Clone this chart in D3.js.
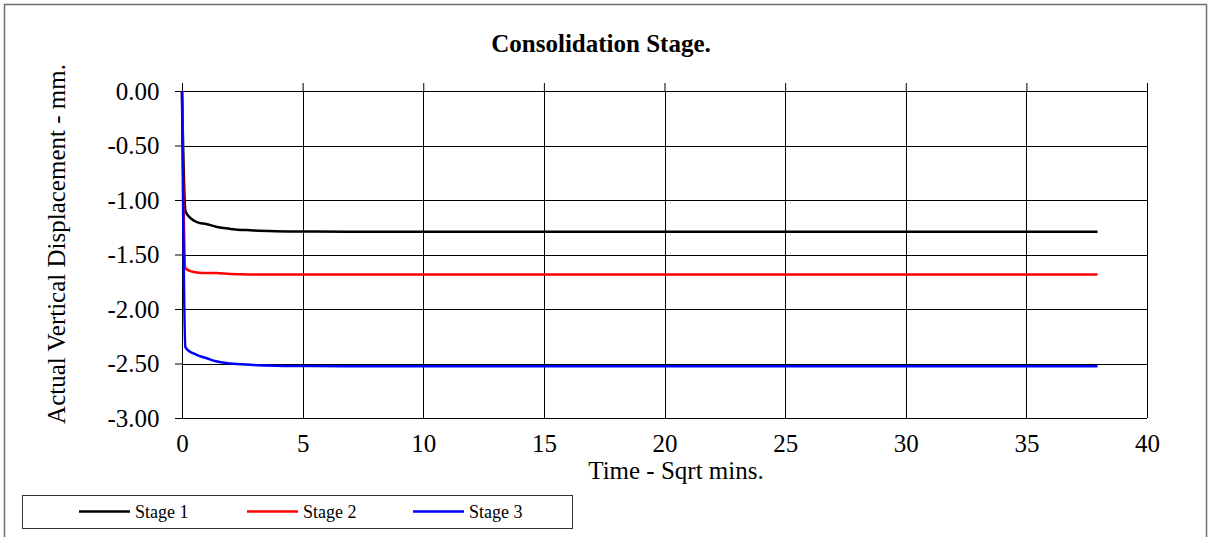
<!DOCTYPE html>
<html>
<head>
<meta charset="utf-8">
<script src="https://cdn.jsdelivr.net/npm/d3@7/dist/d3.min.js"></script>
<style>
  html, body { margin: 0; padding: 0; background: #fff; }
  svg { display: block; font-family: "Liberation Serif", "Times New Roman", serif; }
</style>
</head>
<body>
<svg id="chart" width="1210" height="537"></svg>
<script>
// Time readings on a square-root-of-minutes scale
const sqrtMins = [0, 0.14, 0.32, 0.5, 0.71, 1, 1.41, 2, 2.83, 3.87, 5.48, 7.75, 10.95, 15.49, 21.91, 37.95];

// Vertical displacement readings (mm) for each consolidation stage
const stage1 = [0, -1.10, -1.16, -1.19, -1.21, -1.22, -1.245, -1.265, -1.278, -1.286, -1.29, -1.292, -1.292, -1.292, -1.292, -1.292];
const stage2 = [0, -1.625, -1.65, -1.66, -1.667, -1.67, -1.67, -1.68, -1.683, -1.684, -1.684, -1.684, -1.684, -1.684, -1.684, -1.684];
const stage3 = [0, -2.35, -2.39, -2.41, -2.43, -2.45, -2.48, -2.50, -2.512, -2.52, -2.524, -2.525, -2.525, -2.525, -2.525, -2.525];

const seriesNames = ["Stage 1", "Stage 2", "Stage 3"];
const seriesColors = ["#000000", "#ff0000", "#0000ff"];

const xTicks = [0, 5, 10, 15, 20, 25, 30, 35, 40];
const yTicks = [0, -0.5, -1.0, -1.5, -2.0, -2.5, -3.0];

const chartTitle = "Consolidation Stage.";
const xTitle = "Time - Sqrt mins.";
const yTitle = "Actual Vertical Displacement - mm.";

const FONT = "'Liberation Serif', 'Times New Roman', serif";
const svg = d3.select("#chart");

// outer chart frame
svg.append("rect")
  .attr("x", 4.5).attr("y", 4.5)
  .attr("width", 1202).attr("height", 545)
  .attr("fill", "#fff")
  .attr("stroke", "#6e6e6e")
  .attr("stroke-width", 1.5);

const x = d3.scaleLinear().domain([0, 40]).range([182, 1147]);
const y = d3.scaleLinear().domain([-3, 0]).range([418, 91]);
const crisp = v => Math.round(v) + 0.5;

// grid
const grid = svg.append("g").attr("stroke", "#000").attr("stroke-width", 1);
grid.selectAll("line.h").data(yTicks).join("line")
  .attr("class", "h")
  .attr("x1", x(0)).attr("x2", x(40))
  .attr("y1", d => crisp(y(d))).attr("y2", d => crisp(y(d)));
grid.selectAll("line.v").data(xTicks).join("line")
  .attr("class", "v")
  .attr("x1", d => crisp(x(d))).attr("x2", d => crisp(x(d)))
  .attr("y1", y(0)).attr("y2", y(-3));

// y axis: ticks out to the left, two-decimal labels with a plain hyphen
const yAxis = svg.append("g")
  .attr("transform", `translate(${Math.round(x(0))},0)`)
  .call(d3.axisLeft(y).tickValues(yTicks).tickSize(7).tickPadding(15.5)
    .tickFormat(d => (Math.abs(d) < 1e-9 ? 0 : d).toFixed(2)));
yAxis.select(".domain").remove();
yAxis.selectAll("line").attr("stroke", "#000");
yAxis.selectAll("text")
  .style("font-family", FONT)
  .attr("font-size", 25).attr("fill", "#000").attr("dy", "0.33em");

// x axis crosses at zero (top): tick marks point up from there
const xTop = svg.append("g")
  .attr("transform", `translate(0,${Math.round(y(0))})`)
  .call(d3.axisTop(x).tickValues(xTicks).tickSize(8).tickFormat(""));
xTop.select(".domain").remove();
xTop.selectAll("line").attr("stroke", "#000");

// x labels sit below the plot area
const xBottom = svg.append("g")
  .attr("transform", `translate(0,${Math.round(y(-3))})`)
  .call(d3.axisBottom(x).tickValues(xTicks).tickSize(0).tickPadding(16.5));
xBottom.select(".domain").remove();
xBottom.selectAll("text")
  .style("font-family", FONT)
  .attr("font-size", 25).attr("fill", "#000");

// series lines
const seriesData = [stage1, stage2, stage3];
const line = d3.line()
  .x((d, i) => x(sqrtMins[i]))
  .y(d => y(d))
  .curve(d3.curveMonotoneX);
svg.append("g").selectAll("path").data(seriesData).join("path")
  .attr("d", d => line(d))
  .attr("fill", "none")
  .attr("stroke", (d, i) => seriesColors[i])
  .attr("stroke-width", 2.5)
  .attr("stroke-linejoin", "round");

// titles
svg.append("text")
  .attr("x", 601).attr("y", 52)
  .attr("text-anchor", "middle")
  .style("font-family", FONT)
  .attr("font-size", 25).attr("font-weight", "bold")
  .text(chartTitle);

svg.append("text")
  .attr("x", 676).attr("y", 479)
  .attr("text-anchor", "middle")
  .style("font-family", FONT)
  .attr("font-size", 25)
  .text(xTitle);

svg.append("text")
  .attr("transform", "translate(65,244) rotate(-90)")
  .attr("text-anchor", "middle")
  .style("font-family", FONT)
  .attr("font-size", 25)
  .text(yTitle);

// legend
const legend = svg.append("g");
legend.append("rect")
  .attr("x", 22.5).attr("y", 495.5)
  .attr("width", 550).attr("height", 33)
  .attr("fill", "#fff").attr("stroke", "#333").attr("stroke-width", 1);
const legendX = [79, 247, 413];
const items = legend.selectAll("g.item").data(seriesNames).join("g")
  .attr("class", "item")
  .attr("transform", (d, i) => `translate(${legendX[i]},0)`);
items.append("line")
  .attr("x1", 0).attr("x2", 51)
  .attr("y1", 511.5).attr("y2", 511.5)
  .attr("stroke", (d, i) => seriesColors[i])
  .attr("stroke-width", 2.5);
items.append("text")
  .attr("x", 56).attr("y", 517.5)
  .style("font-family", FONT)
  .attr("font-size", 18)
  .text(d => d);
</script>
</body>
</html>
